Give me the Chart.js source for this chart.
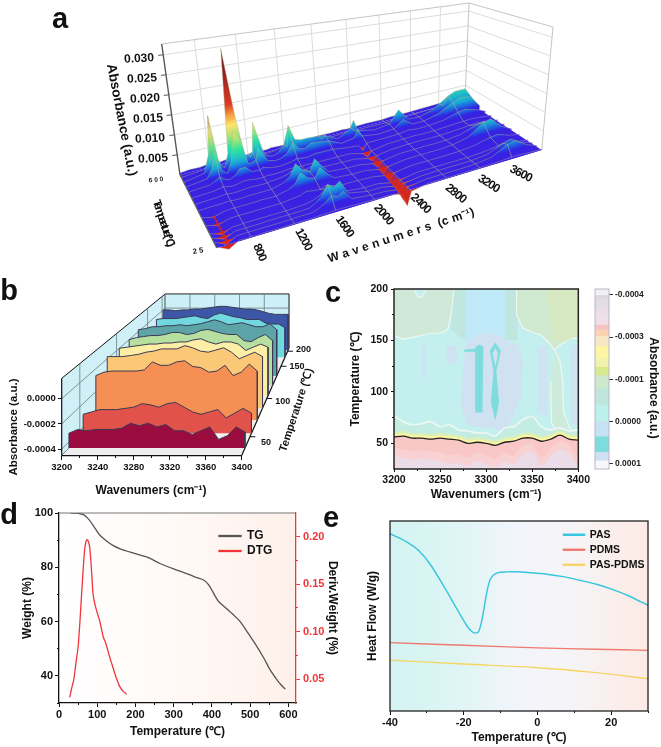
<!DOCTYPE html>
<html>
<head>
<meta charset="utf-8">
<script src="https://cdn.jsdelivr.net/npm/chart.js@4"></script>
<style>
html, body { margin: 0; padding: 0; background: #fff; }
#page { position: relative; width: 661px; height: 747px; overflow: hidden; font-family: "Liberation Sans", Arial, sans-serif; }
#page canvas { position: absolute; }
.lb { position: absolute; white-space: nowrap; font-weight: bold; color: #111; transform-origin: center center; line-height: 1; }
</style>
</head>
<body>
<div id="page"></div>
<script>
// panel a, absorbance x 1000 for each temperature row, back to front
const aWaves = [500,600,700,760,800,850,900,950,1000,1060,1120,1200,1230,1320,1400,1460,1530,1600,1660,1720,1800,2000,2150,2300,2350,2400,2600,2800,2920,3050,3200,3400,3600,3700,3850,4000];
const aTemps = [600,550,500,450,400,350,300,250,200,150,100,75,50,25];
const a600 = [.5,.7,.6,.8,1,.7,.6,.8,.9,1,.8,.7,.9,.8,.7,.9,.8,.7,.8,1,.7,.8,.7,.8,.6,.7,.8,.7,.9,.8,.9,1,1.1,1,.8,.5];
const a550 = [.5,.7,.9,1.6,3.5,1.2,.8,1.6,5,6,2,1.1,2.2,1.1,.9,1.1,1.5,1.3,1.6,1.6,1,.8,.8,1,1.2,.9,.8,.8,1.1,1,1.1,1.3,1.5,1.5,1.2,.6];
const a500 = [.5,.8,1.3,5.5,15,3.5,1.3,4.5,31,14,2.6,3.5,11,2,1.1,1.5,3,8,4,3.5,3.5,3,1.1,3,5.2,2,.9,1.5,5,1.5,1.2,2.5,5.5,6.5,6.5,1.6];
const a450 = [.5,.8,1.1,3.2,7.5,2.2,1.1,3.5,11,9,2,2.5,5.5,1.6,1.1,1.3,2.2,4.5,2.7,2.2,3.2,2.6,1,1.6,3.5,1.5,.8,1.1,3.2,1.1,1.1,2.2,4.5,5.5,5,1.2];
const a400 = [.5,.7,.8,1.5,2.2,1.1,.8,1.5,2.8,2.8,1.3,1.2,1.6,1,.8,.9,1.1,1.6,1.3,1.2,1.6,1.5,.9,.6,-1,.7,.7,.8,1.2,.8,.9,1.3,2.6,2.9,2,.7];
const a350 = [.4,.5,.6,.8,1,.7,.6,.8,1,1,.7,.6,.8,.7,.8,1,.9,.8,.9,.8,.7,.7,.6,-.3,-1.6,-.2,.5,.6,.7,.6,.6,.8,1,1.1,.8,.5];
const a300 = [.3,.4,.5,.6,.7,.5,.5,.6,.7,.7,.6,.6,.8,.9,1.3,2,1.5,1.2,1.7,1.2,.7,.6,.5,-.3,-1.2,-.2,.4,.5,.6,.5,.5,.7,1,1.2,.7,.4];
const a250 = [.3,.4,.4,.5,.5,.4,.4,.5,.5,.5,.5,.5,.7,1.2,2.4,5,3,2.2,5,3,.9,.5,.4,-.3,-1.5,-.3,.4,.4,.5,.4,.5,1,2.5,3,1.3,.4];
const a200 = [.3,-.3,.3,.4,.4,.4,.4,.4,.4,.5,.4,.4,.6,1,2,4.2,2.6,2,4.2,2.6,.8,.4,.4,-.3,-1.8,-.3,.3,.4,.4,.4,.6,1.5,4.5,5,2,.4];
const a150 = [.2,-.5,.2,.3,.3,.3,.3,.3,.3,.3,.3,.3,.4,.6,.8,1.4,1,.9,1.4,1,.5,.4,.3,-.3,-2,-.3,.3,.3,.3,.3,.4,.8,1.8,2,.9,.3];
const a100 = [.2,-.7,.2,.2,.3,.3,.3,.3,.3,.3,.3,.3,.3,.4,.5,.8,1.4,2.6,2,2.4,.8,.3,.3,-.4,-2.4,-.4,.3,.3,.3,.3,.3,.5,1,1.1,.6,.3];
const a75 = [.2,-.8,.2,.2,.2,.2,.2,.2,.3,.3,.3,.3,.3,.3,.4,1,2.2,4.5,3.5,4.5,1.2,.3,.3,-.4,-2.8,-.4,.2,.3,.3,.3,.3,.7,2.5,3,1.3,.3];
const a50 = [.2,-.9,.2,.2,.2,.2,.2,.2,.2,.2,.2,.2,.3,.3,.3,.7,1.6,2.8,2.2,3,.8,.3,.2,-.4,-3.2,-.4,.2,.2,.2,.2,.3,.8,3,3.4,1.5,.3];
const a25 = [.2,-1,.2,.1,.2,.1,.2,.2,.2,.1,.2,.2,.2,.2,.2,.3,.3,.4,.4,.4,.3,.2,.2,-.5,-3.6,-.5,.2,.2,.2,.2,.2,.3,.5,.5,.3,.2];
const aRows = [a600,a550,a500,a450,a400,a350,a300,a250,a200,a150,a100,a75,a50,a25];
const aGridWaves = [800,1200,1600,2000,2400,2800,3200,3600];
const aAbsTicks = [0.005,0.010,0.015,0.020,0.025,0.030];

// panel b
const bWaves = [3200,3210,3220,3230,3240,3250,3260,3270,3280,3290,3300,3310,3320,3330,3340,3350,3360,3370,3380,3390,3400];
const b1 = [-.00033,-.0003,-.00031,-.0003,-.0003,-.0003,-.00029,-.00025,-.00027,-.00025,-.00028,-.00026,-.00031,-.00031,-.00034,-.00031,-.00028,-.00038,-.00035,-.00028,-.00032];
const b2 = [-.00029,-.00027,-.00025,-.00025,-.00025,-.00024,-.00023,-.0002,-.00021,-.00023,-.0002,-.00019,-.00023,-.00027,-.00029,-.00027,-.00025,-.00032,-.00028,-.00024,-.00028];
const b3 = [-.00006,-.00003,-.00002,-.00002,-.00002,-.00002,-.00001,.00006,.00003,.00003,.00006,.00007,.00002,.00001,-.00003,-.00002,.00003,-.00006,-.00003,.00004,-.00002];
const b4 = [.00002,.00002,.00002,.00003,.00004,.00006,.00007,.00009,.00009,.00009,.00012,.0001,.00007,.00006,.00008,.0001,.00006,0,.00003,.00006,.00002];
const b5 = [0,.00001,.00002,.00003,.00004,.00004,.00005,.00005,.00006,.00006,.00008,.00009,.00006,.00004,.00006,.00006,.00004,-.00002,.00001,.00004,.00001];
const b6 = [0,.00002,.00003,.00004,.00004,.00005,.00007,.00007,.00005,.00006,.00009,.0001,.00008,.00006,.00005,.00005,-.00001,-.00002,.00002,.00005,-.00001];
const b7 = [.00002,.00003,.00005,.00005,.00006,.00006,.00007,.00006,.00007,.00008,.0001,.00012,.0001,.00007,.00008,.00009,.00007,.00005,.00005,.00008,.00002];
const b8 = [-.00004,-.00003,-.00003,-.00003,-.00002,-.00001,0,-.00002,-.00003,.00001,.00003,.00001,-.00001,-.00002,-.00004,-.00004,-.00004,-.00008,-.00009,-.00009,-.00013];
const b9 = [0,0,-.00001,0,0,.00001,.00001,.00002,.00003,.00004,.00004,.00003,.00002,.00001,.00001,0,-.00002,-.00004,-.00005,-.00005,-.00005];
const bRows = [b1,b2,b3,b4,b5,b6,b7,b8,b9];
const bWaveTicks = [3200,3240,3280,3320,3360,3400];
const bWaveMinor = [3220,3260,3300,3340,3380];
const bAbsTicks = [0,-0.0002,-0.0004];
const bTempTicks = [50,100,150,200];

// panel c contours, temperature against wavenumber
const cWaves = [3200,3210,3220,3230,3240,3250,3260,3270,3280,3290,3300,3310,3320,3330,3340,3350,3360,3370,3380,3390,3400];
const cWhiteLow = [77,71,68,69,71,66,68,63,62,60,60,57,65,66,73,76,66,63,65,62,63];
const cBlack = [56,57,55,55,54,55,54,53,50,51,50,48,51,52,55,55,52,54,58,54,53];
const cLilac = [38,36,34,35,34,33,30,31,28,33,30,27,32,30,40,41,28,38,44,40,26];
const cTopLeftW = [3200,3200,3210,3220,3230,3240,3250,3258,3262,3265];
const cTopLeftT = [200,155,151,153,155,157,157,160,175,200];
const cTopRightW = [3333,3333,3340,3350,3360,3368,3374,3382,3392,3400,3400];
const cTopRightT = [200,175,162,158,155,148,141,147,152,152,200];
const cForkW = [3374,3380,3383,3384,3392,3400,3400,3390,3376,3371,3370];
const cForkT = [141,130,110,80,62,63,40,40,60,70,110];
const cLavW = [3272,3278,3290,3310,3322,3335,3340,3338,3325,3315,3305,3285,3278];
const cLavT = [90,148,156,157,150,145,130,95,68,62,65,66,70];
const cStreak1W = [3276,3288,3289,3293,3297,3296,3288,3288,3276];
const cStreak1T = [141,142,144,146,144,80,80,139,139];
const cStreak2W = [3310,3316,3311,3314,3310,3305,3308,3304];
const cStreak2T = [148,140,120,90,72,90,120,140];
const cHoleW = [3310,3313,3310,3307];
const cHoleT = [143,137,125,137];
const cBarEdges = [-.14,.0,.09,.34,.5,.7,.82,.97,1.2,1.5,1.7,1.9,2.2,2.6,3.0,3.35,3.72,3.92,4.13];
const cBarColors = ['#f2eff4','#dcd8e2','#e4dce6','#eddde8','#f1dfe8','#f8c3c1','#fbd3b2','#f7e7c3','#fdf5a4','#f0f2b0','#d8e88c','#cee8cb','#c0e5dc','#bdf0ea','#c6e1f3','#7fdcdc','#cfe0f5','#f7f8fc'];
const cBarLabels = ['-0.0004','-0.0003','-0.0001','0.0000','0.0001'];

// panel d
const tgTemp = [30,50,65,80,95,107,125,142,160,177,200,229,245,264,300,334,360,378,390,400,410,418,435,457,475,492,515,536,552,567,580,592];
const tgWeight = [100,99.9,99.3,97.3,94.2,91.8,89.6,88,86.8,86,85,83.8,82.8,81.4,79.4,77.7,76.2,75.3,73.8,71.6,69,67.3,65.2,62.4,59.8,56.3,51.4,46.5,42.3,39.2,36.8,35.1];
const dtgTemp = [28,33,38.5,44,50,55,58.7,63,67,70,73.5,77,80.6,85,89,95,102,106,111,116,122.6,132,142,150,159,168,177];
const dtgValue = [.0307,.04,.049,.066,.084,.112,.137,.164,.186,.194,.197,.195,.188,.165,.14,.127,.117,.112,.103,.094,.0875,.074,.061,.051,.042,.037,.034];

// panel e, relative heat flow
const ePasT = [-40,-35.5,-32.3,-29.2,-25.5,-21.9,-19.2,-17.9,-16.8,-15.9,-14.9,-13.8,-12.9,-12,-10.6,-8.4,-5.7,-2,2.5,7,11.5,16,20.5,25,30];
const ePas = [93.3,89,84.6,77.5,66,53.9,45,42,41,42,49.5,61.8,68.8,71.4,72.8,73.2,73.3,72.8,72,70.7,68.8,66.7,63.9,60.4,55.6];
const eLineT = [-40,-20,0,16,30];
const ePdms = [36,34.6,33.2,32.5,31.9];
const ePasPdms = [26.8,24.7,22.8,20.2,17];

const page = document.getElementById('page');
const boldFont = size => ({family: '"Liberation Sans", Arial, sans-serif', size: size, weight: 'bold'});

function addCanvas(x, y, w, h) {
    const c = document.createElement('canvas');
    c.width = w;
    c.height = h;
    c.style.left = x + 'px';
    c.style.top = y + 'px';
    c.style.width = w + 'px';
    c.style.height = h + 'px';
    page.appendChild(c);
    return c;
}
function label(text, x, y, size, rot, extra) {
    const d = document.createElement('div');
    d.className = 'lb';
    d.textContent = text;
    d.style.left = x + 'px';
    d.style.top = y + 'px';
    d.style.fontSize = size + 'px';
    d.style.transform = 'translate(-50%,-50%) rotate(' + (rot || 0) + 'deg)';
    if (extra) Object.assign(d.style, extra);
    page.appendChild(d);
}
function poly(points, fillColor, lineColor, lineWidth) {
    return {data: points, showLine: true, fill: 'shape', backgroundColor: fillColor, borderColor: lineColor || 'rgba(0,0,0,0)', borderWidth: lineWidth || 0, pointRadius: 0, tension: 0};
}
function line(points, lineColor, lineWidth) {
    return {data: points, showLine: true, fill: false, borderColor: lineColor, borderWidth: lineWidth || 1, pointRadius: 0, tension: 0};
}
function zip(xs, ys) {
    return xs.map((x, i) => ({x: x, y: ys[i]}));
}
function fixedTicks(values) {
    return s => { s.ticks = values.map(v => ({value: v})); };
}
function minorAxis(axis, pos, min, max, values, color, len) {
    return {axis: axis, position: pos, min: min, max: max, border: {display: false},
        grid: {drawOnChartArea: false, tickLength: len, tickColor: color, tickWidth: 1},
        ticks: {display: false}, afterBuildTicks: fixedTicks(values)};
}
function frame(color, width) {
    return {id: 'frame', afterDatasetsDraw(chart) {
        const a = chart.chartArea, ctx = chart.ctx;
        ctx.save();
        ctx.strokeStyle = color;
        ctx.lineWidth = width;
        ctx.strokeRect(a.left, a.top, a.right - a.left, a.bottom - a.top);
        ctx.restore();
    }};
}
function topRule(color) {
    return {id: 'topRule', afterDatasetsDraw(chart) {
        const a = chart.chartArea, ctx = chart.ctx;
        ctx.save();
        ctx.strokeStyle = color;
        ctx.beginPath();
        ctx.moveTo(a.left, a.top);
        ctx.lineTo(a.right, a.top);
        ctx.stroke();
        ctx.restore();
    }};
}
function backdrop(stops) {
    return {id: 'backdrop', beforeDraw(chart) {
        const a = chart.chartArea, ctx = chart.ctx;
        const g = ctx.createLinearGradient(a.left, 0, a.right, 0);
        stops.forEach(s => g.addColorStop(s[0], s[1]));
        ctx.fillStyle = g;
        ctx.fillRect(a.left, a.top, a.right - a.left, a.bottom - a.top);
    }};
}
function legendAt(x, y) {
    return {id: 'legendAt', beforeDraw(chart) {
        chart.legend.left = x;
        chart.legend.top = y;
        chart.legend.right = x + 200;
        chart.legend.bottom = y + 200;
    }};
}
const common = {responsive: false, animation: false, events: []};
const quiet = {legend: {display: false}, tooltip: {enabled: false}};

// ---- panel a: bilinear floor with perspective, scales are in canvas pixels
const aFull = 0.0327;
function aProject(w, T, A) {
    const s = (w - 500) / 3500, t = (T - 25) / 575;
    const u = s * 1.26 / (1 + 0.26 * s), v = t * 1.5 / (1 + 0.5 * t);
    const mix = (nl, nr, fl, fr) => nl * (1 - u) * (1 - v) + nr * u * (1 - v) + fl * (1 - u) * v + fr * u * v;
    const k = A / aFull;
    return {x: mix(216.7, 541.7, 180, 465) + k * mix(-25, 11.3, -18.3, 4),
            y: mix(248, 150, 175, 100) + k * mix(-160, -123, -131, -97)};
}
const aCanvas = addCanvas(0, 0, 661, 270);
const aCtx = aCanvas.getContext('2d');
const aStops = [[-.004,'#d8261c'],[-.0002,'#d8261c'],[0,'#3a1fe6'],[.001,'#3324e2'],[.002,'#1f5fe0'],[.0035,'#1aa6d8'],[.005,'#22c8c0'],[.007,'#2ee49c'],[.010,'#a8e47a'],[.013,'#ffe46a'],[.016,'#f59a3c'],[.019,'#dc3a26'],[.031,'#7a1a1a']];
function rowGradient(T) {
    const m = aProject(2250, T, 0), r0 = aProject(500, T, 0), r1 = aProject(4000, T, 0), top = aProject(2250, T, 0.01);
    let nx = r1.y - r0.y, ny = r0.x - r1.x;
    const len = Math.hypot(nx, ny);
    nx /= len; ny /= len;
    const d = ((top.x - m.x) * nx + (top.y - m.y) * ny) / 0.01;
    const a0 = aStops[0][0], a1 = aStops[aStops.length - 1][0];
    const g = aCtx.createLinearGradient(m.x + nx * d * a0, m.y + ny * d * a0, m.x + nx * d * a1, m.y + ny * d * a1);
    aStops.forEach(s => g.addColorStop((s[0] - a0) / (a1 - a0), s[1]));
    return g;
}
const aSets = [];
const wallGrey = '#dcdcdc';
aGridWaves.forEach(w => aSets.push(line([aProject(w, 600, 0), aProject(w, 600, aFull)], wallGrey, 1)));
aAbsTicks.forEach(A => aSets.push(line([aProject(500, 600, A), aProject(4000, 600, A), aProject(4000, 25, A)], wallGrey, 1)));
aSets.push(line([aProject(500, 600, aFull), aProject(4000, 600, aFull), aProject(4000, 25, aFull), aProject(4000, 25, 0)], '#c4c4c4', 1));
aSets.push(line([aProject(4000, 600, 0), aProject(4000, 600, aFull)], '#c4c4c4', 1));
aSets.push(poly([aProject(500, 600, 0), aProject(4000, 600, 0), aProject(4000, 25, 0), aProject(500, 25, 0)], '#3a22e2'));
aTemps.forEach((T, r) => {
    const pts = aWaves.map((w, i) => aProject(w, T, aRows[r][i] / 1000));
    const ring = [aProject(500, T, 0)].concat(pts, [aProject(4000, T, 0)]);
    aSets.push(poly(ring, rowGradient(T), 'rgba(178,182,140,0.7)', 0.6));
});
aGridWaves.forEach(w => {
    const i = aWaves.indexOf(w);
    if (i >= 0) aSets.push(line(aTemps.map((T, r) => aProject(w, T, aRows[r][i] / 1000)), 'rgba(178,182,140,0.75)', 0.7));
});
// the negative CO2 and low wavenumber valleys run along the temperature axis
function valley(w, firstRow, spread, alpha) {
    const i = aWaves.indexOf(w), rows = aTemps.slice(firstRow);
    const lower = rows.map((T, r) => aProject(w, T, aRows[r + firstRow][i] / 1000));
    const upper = rows.map(T => aProject(w + spread, T, 0)).reverse();
    return poly(lower.concat(upper), 'rgba(214,40,30,' + alpha + ')');
}
aSets.push(valley(2350, 6, 25, 0.75));
aSets.push(valley(600, 8, 15, 0.7));
aSets.push(line([aProject(500, 600, 0), aProject(500, 600, aFull)], '#555', 1.4));
aSets.push(line([aProject(500, 600, 0), aProject(500, 25, 0)], '#666', 1.2));
aAbsTicks.forEach(A => {
    const p = aProject(500, 600, A);
    aSets.push(line([p, {x: p.x - 5, y: p.y + 0.5}], '#555', 1));
});
new Chart(aCanvas, {type: 'scatter', data: {datasets: aSets.reverse()}, options: Object.assign({}, common, {
    plugins: quiet,
    scales: {x: {display: false, min: 0, max: 661}, y: {display: false, min: 0, max: 270, reverse: true}}
})});
label('a', 60, 18, 29, 0);
aAbsTicks.forEach(A => {
    const p = aProject(500, 600, A);
    label(A.toFixed(3), p.x - 24, p.y + 3, 12, -3);
});
aGridWaves.forEach((w, i) => {
    const p = aProject(w, 25, 0);
    label(String(w), p.x + 9, p.y + 14, 12, 66 - i * 5.5, {letterSpacing: '-1px'});
});
label('6 0 0', 156, 180, 6.5, -6);
label('2 5', 198, 251, 7.5, -10);
label('Absorbance (a.u.)', 122, 120, 13.5, 79);
label('Temperature (℃)', 163, 222, 11.5, 72, {letterSpacing: '-3px'});
label('W a v e n u m e r s  (c m⁻¹)', 401, 235, 12, -18, {whiteSpace: 'pre', letterSpacing: '0.2px'});

// ---- panel b: front plane keeps real wavenumber and absorbance scales, rows recede behind it
const bDepth = [0.07, 0.207, 0.33, 0.44, 0.556, 0.652, 0.74, 0.915, 0.98];
const bRowColors = ['#9b0c3e', '#e0524a', '#f58f53', '#fbc878', '#fdeea6', '#b6dfa0', '#5da4a8', '#72d8e0', '#3b57a6'];
const bTempDepth = [0.175, 0.53, 0.83, 0.97];
const bBase = -0.00045, bTop = 0.00016;
function bProject(w, f, A) {
    return {x: 3200 + (w - 3200) * (1 - 0.312 * f) + 115 * f, y: bBase + (A - bBase) * (1 - 0.3 * f) + 0.00085 * f};
}
const bSets = [];
bSets.push(poly([bProject(3200, 0, bBase), bProject(3200, 1, bBase), bProject(3200, 1, bTop), bProject(3200, 0, bTop)], '#d0f0f8', '#111', 1));
bSets.push(poly([bProject(3200, 1, bBase), bProject(3400, 1, bBase), bProject(3400, 1, bTop), bProject(3200, 1, bTop)], '#cdeff8', '#222', 1));
bSets.push(poly([bProject(3200, 0, bBase), bProject(3400, 0, bBase), bProject(3400, 1, bBase), bProject(3200, 1, bBase)], '#efefef'));
bWaveTicks.forEach(w => bSets.push(line([bProject(w, 1, bBase), bProject(w, 1, bTop)], '#6a7a80', 0.8)));
bAbsTicks.forEach(A => {
    bSets.push(line([bProject(3200, 0, A), bProject(3200, 1, A), bProject(3400, 1, A)], '#6a7a80', 0.8));
});
bTempDepth.forEach(f => bSets.push(line([bProject(3200, f, bBase), bProject(3200, f, bTop)], '#6a7a80', 0.8)));
bSets.push(line([bProject(3400, 0, bBase), bProject(3400, 1, bBase)], '#111', 1.2));
bTempDepth.forEach(f => {
    const p = bProject(3400, f, bBase);
    bSets.push(line([p, {x: p.x + 6, y: p.y}], '#111', 1));
});
for (let r = bRows.length - 1; r >= 0; r--) {
    const f = bDepth[r];
    const top = bWaves.map((w, i) => bProject(w, f, bRows[r][i]));
    const ring = [bProject(3200, f, bBase)].concat(top, [bProject(3400, f, bBase)]);
    bSets.push(poly(ring, bRowColors[r], '#3a3a55', 1));
}
bSets.push(line([bProject(3200, 0, bBase), bProject(3200, 0, bTop)], '#111', 1.2));
bSets.push(line([bProject(3200, 0, bBase), bProject(3400, 0, bBase)], '#111', 1.2));
const bxMin = 3200 - 61.7 / 0.9, bxMax = bxMin + 320 / 0.9;
const byMax = 129.3 / 136500, byMin = byMax - 240 / 136500;
new Chart(addCanvas(0, 270, 320, 240), {type: 'scatter', data: {datasets: bSets.reverse()}, options: Object.assign({}, common, {
    plugins: quiet,
    layout: {padding: 0},
    scales: {
        x: {min: bxMin, max: bxMax, position: {y: bBase}, border: {display: false},
            grid: {drawOnChartArea: false, tickLength: 4, tickColor: '#111', tickWidth: 1},
            ticks: {font: boldFont(9.5), color: '#111', padding: 2, maxRotation: 0, autoSkip: false, callback: v => String(v)},
            afterBuildTicks: fixedTicks(bWaveTicks)},
        xm: minorAxis('x', {y: bBase}, bxMin, bxMax, bWaveMinor, '#111', 2),
        y: {min: byMin, max: byMax, position: {x: 3200}, border: {display: false},
            grid: {drawOnChartArea: false, tickLength: 4, tickColor: '#111', tickWidth: 1},
            ticks: {display: false}, afterBuildTicks: fixedTicks(bAbsTicks)},
        yl: {axis: 'y', min: byMin, max: byMax, position: {x: 3193.5}, border: {display: false},
            grid: {display: false},
            ticks: {font: boldFont(9.5), color: '#111', autoSkip: false, callback: v => v.toFixed(4)},
            afterBuildTicks: fixedTicks(bAbsTicks)}
    }
})});
label('b', 9, 290, 29, 0);
label('Absorbance (a.u.)', 14, 427, 11.5, -90);
label('Wavenumers (cm⁻¹)', 151, 490, 12, 0);
bTempTicks.forEach((T, i) => {
    const f = bTempDepth[i], fx = 241.7 + 47.3 * f, fy = 461 - 116 * f;
    label(String(T), fx + 16, fy + 1, 9, 0);
});
label('Temperature (℃)', 296, 410, 11, -72);

// ---- panel c: contour map made of filled bands
const cSets = [];
const cw = (xs, ys) => zip(xs, ys);
cSets.push(poly(cw([3262,3277,3277,3262], [200,200,150,160]), '#bfe7e0'));
cSets.push(poly(cw([3320,3334,3334,3320], [200,200,150,150]), '#bfe7e0'));
cSets.push(poly(cw([3277,3320,3320,3277], [200,200,150,150]), '#bfe9f6'));
cSets.push(poly(cw(cTopLeftW, cTopLeftT), '#cfe8d8', '#eef7f2', 1.2));
cSets.push(poly(cw([3222,3226,3230,3235], [200,192,192,200]), '#c3f0ee', '#eef7f2', 1.2));
cSets.push(poly(cw(cTopRightW, cTopRightT), '#cfe8d0', '#eef7f2', 1.2));
cSets.push(poly(cw([3365,3400,3400,3385,3372], [200,200,155,149,150]), '#d6e9c2'));
cSets.push(poly(cw(cLavW, cLavT), '#d0e2f2'));
cSets.push(poly(cw([3230,3235,3235,3230], [145,145,113,113]), '#cbe6f2'));
cSets.push(poly(cw([3257,3268,3268,3257], [145,145,128,128]), '#cfe2f2'));
cSets.push(poly(cw([3355,3367,3367,3355], [145,145,78,78]), '#cfe4f2'));
cSets.push(poly(cw([3392,3400,3400,3392], [145,145,68,68]), '#cfe4f2'));
cSets.push(poly(cw(cStreak1W, cStreak1T), '#7fdcdc'));
cSets.push(poly(cw(cStreak2W, cStreak2T), '#7fdcdc'));
cSets.push(poly(cw(cHoleW, cHoleT), '#d0e2f2'));
cSets.push(poly(cw(cForkW, cForkT), '#cdeadb', '#eef7f2', 1.2));
function band(ys, offset, color, lineColor, lineWidth) {
    return {data: zip(cWaves, ys.map(v => v + offset)), showLine: true, fill: 'start', backgroundColor: color, borderColor: lineColor || color, borderWidth: lineWidth || 0, pointRadius: 0, tension: 0.3};
}
cSets.push(band(cWhiteLow, 0, '#c3ece2', '#eef7f2', 1.6));
cSets.push(band(cBlack, 5, '#dcefb8'));
cSets.push(band(cBlack, 2.5, '#fdf6a0'));
cSets.push(band(cBlack, 0, '#f9c8c6', '#222', 1.3));
cSets.push(band(cLilac, 8, '#f8d2d2'));
cSets.push(band(cLilac, 0, '#ecdce8'));
new Chart(addCanvas(320, 270, 272, 235), {type: 'scatter', data: {datasets: cSets.reverse()}, options: Object.assign({}, common, {
    plugins: quiet,
    layout: {padding: {top: 19, right: 10}},
    scales: {
        x: {min: 3200, max: 3400, border: {display: false}, grid: {drawOnChartArea: false, tickLength: 3, tickColor: '#111'},
            ticks: {font: boldFont(10.5), color: '#111', padding: 2, autoSkip: false, maxRotation: 0, callback: v => String(v)}, afterBuildTicks: fixedTicks([3200,3250,3300,3350,3400]),
            afterFit(s) { s.height = 36; },
            title: {display: true, text: 'Wavenumers (cm⁻¹)', font: boldFont(12), color: '#111', padding: {top: 0, bottom: 3}}},
        y: {min: 25, max: 200, border: {display: false}, grid: {drawOnChartArea: false, tickLength: 3, tickColor: '#111'},
            ticks: {font: boldFont(10.5), color: '#111', autoSkip: false}, afterBuildTicks: fixedTicks([50,100,150,200]),
            afterFit(s) { s.width = 74; },
            title: {display: true, text: 'Temperature (℃)', font: boldFont(12), color: '#111', padding: {top: 28, bottom: 0}}},
        ym: minorAxis('y', {x: 3200}, 25, 200, [75,125,175], '#111', 2),
        xm: minorAxis('x', {y: 25}, 3200, 3400, [3225,3275,3325,3375], '#111', 2)
    }
}), plugins: [backdrop([[0, '#c3f0ee'], [1, '#c3f0ee']]), frame('#222', 1.5)]});
label('c', 333, 292, 29, 0);

// colour bar of panel c
const cBarSets = cBarColors.map((col, i) => ({data: [[cBarEdges[i], cBarEdges[i + 1]]], backgroundColor: col, borderWidth: 0, barPercentage: 1, categoryPercentage: 1, grouped: false}));
new Chart(addCanvas(585, 270, 62, 235), {type: 'bar', data: {labels: ['level'], datasets: cBarSets}, options: Object.assign({}, common, {
    plugins: quiet,
    layout: {padding: {top: 19, left: 10, bottom: 36}},
    scales: {
        x: {display: false},
        y: {position: 'right', min: -0.14, max: 4.13, reverse: true, border: {display: false},
            grid: {drawOnChartArea: false, tickLength: 4, tickColor: '#333'},
            ticks: {font: boldFont(8.5), color: '#222', padding: 2, autoSkip: false, callback: v => cBarLabels[v]},
            afterBuildTicks: fixedTicks([0,1,2,3,4]), afterFit(s) { s.width = 38; }}
    }
}), plugins: [frame('#b9b6c8', 1)]});
label('Absorbance (a.u.)', 654, 388, 12, 90);

// ---- panel d
const dMinorX = [50,150,250,350,450,550];
new Chart(addCanvas(0, 500, 340, 247), {type: 'scatter', data: {datasets: [
    Object.assign(line(zip(tgTemp, tgWeight), '#555', 1.3), {label: 'TG', yAxisID: 'y', backgroundColor: '#555', tension: 0.3}),
    Object.assign(line(zip(dtgTemp, dtgValue), '#f0363a', 1.3), {label: 'DTG', yAxisID: 'y1', backgroundColor: '#f0363a', tension: 0.2})
]}, options: Object.assign({}, common, {
    layout: {padding: {top: 13}},
    plugins: {tooltip: {enabled: false}, legend: {position: 'chartArea', align: 'start',
        labels: {boxWidth: 22, boxHeight: 1, font: boldFont(12), color: '#111', padding: 3}}},
    scales: {
        x: {min: 0, max: 620, border: {color: '#111', width: 1.3}, grid: {drawOnChartArea: false, tickLength: 4, tickColor: '#111'},
            ticks: {font: boldFont(11), color: '#111', padding: 1, autoSkip: false, maxRotation: 0}, afterBuildTicks: fixedTicks([0,100,200,300,400,500,600]),
            afterFit(s) { s.height = 44; },
            title: {display: true, text: 'Temperature (℃)', font: boldFont(12), color: '#111', padding: {top: 0, bottom: 8}}},
        y: {min: 30, max: 100, border: {color: '#111', width: 1.3}, grid: {drawOnChartArea: false, tickLength: 4, tickColor: '#111'},
            ticks: {font: boldFont(11), color: '#111', padding: 2, autoSkip: false}, afterBuildTicks: fixedTicks([40,60,80,100]),
            afterFit(s) { s.width = 59; },
            title: {display: true, text: 'Weight (%)', font: boldFont(12), color: '#111', padding: {top: 20, bottom: 0}}},
        y1: {position: 'right', min: 0.0247, max: 0.225, border: {color: '#f0363a', width: 1.3}, grid: {drawOnChartArea: false, tickLength: 4, tickColor: '#f0363a'},
            ticks: {font: boldFont(11), color: '#f0363a', padding: 3, autoSkip: false, callback: v => v.toFixed(2)}, afterBuildTicks: fixedTicks([.05,.1,.15,.2]),
            afterFit(s) { s.width = 44; },
            title: {display: true, text: 'Deriv.Weight (%)', font: boldFont(12), color: '#111', padding: {top: 0, bottom: 0}}},
        xm: minorAxis('x', {y: 30}, 0, 620, dMinorX, '#111', 2),
        ym: minorAxis('y', {x: 0}, 30, 100, [30,50,70,90], '#111', 2),
        y1m: minorAxis('y', {x: 620}, 0.0247, 0.225, [.075,.125,.175], '#f0363a', -2)
    }
}), plugins: [backdrop([[0, '#ffffff'], [0.45, '#fffaf7'], [1, '#fef0ea']]), topRule('#777'), legendAt(216, 27)]});
label('d', 9, 514, 29, 0);

// ---- panel e
new Chart(addCanvas(330, 500, 331, 247), {type: 'scatter', data: {datasets: [
    Object.assign(line(zip(ePasT, ePas), '#35c5dc', 1.4), {label: 'PAS', backgroundColor: '#35c5dc', tension: 0.3}),
    Object.assign(line(zip(eLineT, ePdms), '#ee7b70', 1.4), {label: 'PDMS', backgroundColor: '#ee7b70', tension: 0.3}),
    Object.assign(line(zip(eLineT, ePasPdms), '#f5d565', 1.4), {label: 'PAS-PDMS', backgroundColor: '#f5d565', tension: 0.3})
]}, options: Object.assign({}, common, {
    layout: {padding: {top: 21, right: 13}},
    plugins: {tooltip: {enabled: false}, legend: {position: 'chartArea', align: 'start',
        labels: {boxWidth: 21, boxHeight: 1, font: boldFont(10.5), color: '#111', padding: 4.5}}},
    scales: {
        x: {min: -40, max: 30, border: {display: false}, grid: {drawOnChartArea: false, tickLength: 4, tickColor: '#111'},
            ticks: {font: boldFont(11), color: '#111', padding: 1, autoSkip: false, maxRotation: 0}, afterBuildTicks: fixedTicks([-40,-20,0,20]),
            afterFit(s) { s.height = 36; },
            title: {display: true, text: 'Temperature (℃)', font: boldFont(12), color: '#111', padding: {top: 0, bottom: 2}}},
        y: {min: 0, max: 100, border: {display: false}, grid: {display: false}, ticks: {display: false},
            afterFit(s) { s.width = 60; },
            title: {display: true, text: 'Heat Flow (W/g)', font: boldFont(12), color: '#111', padding: {top: 35, bottom: 0}}},
        xm: minorAxis('x', {y: 0}, -40, 30, [-30,-10,10,30], '#111', 2)
    }
}), plugins: [backdrop([[0, '#d2f4f2'], [0.25, '#def5f4'], [0.5, '#f3f5fb'], [0.7, '#f6f4f7'], [1, '#fdeae5']]), frame('#222', 1.3), legendAt(229, 25)]});
label('e', 331, 517, 29, 0);
</script>
</body>
</html>
